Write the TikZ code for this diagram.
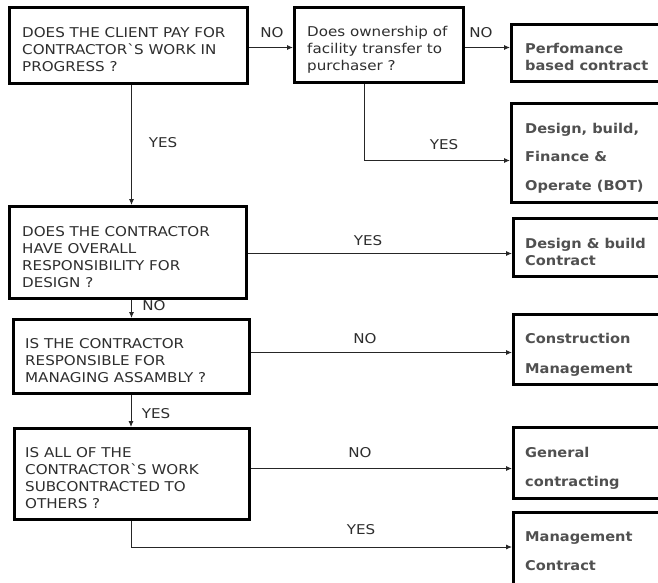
\documentclass[tikz,border=0pt]{standalone}
\usepackage{fontspec}
\setmainfont[FakeStretch=1.12]{DejaVu Sans}
\newfontfamily\headf[FakeStretch=1.08]{DejaVu Sans Bold}
\usetikzlibrary{arrows.meta}
\definecolor{qtext}{HTML}{2E2E2E}
\definecolor{atext}{HTML}{505050}
\newcommand{\gr}{\textasciigrave}
\tikzset{
  box/.style={draw=black, line width=3pt, fill=white, rectangle, inner sep=0pt, anchor=north west},
  qtxt/.style={anchor=north west, align=left, inner sep=0pt, text=qtext,
    font=\fontsize{13.5}{17}\selectfont},
  atxt/.style={anchor=north west, align=left, inner sep=0pt, text=atext,
    font=\headf\fontsize{13.5}{17.5}\selectfont},
  lbl/.style={inner sep=0pt, text=qtext, font=\fontsize{13.5}{15}\selectfont},
  arr/.style={draw=black!85, line width=0.9pt, -{Latex[length=6pt,width=5pt]}}
}
\begin{document}
\begin{tikzpicture}[x=1pt,y=-1pt]
\clip (0,0) rectangle (658,582);
\fill[white] (0,0) rectangle (658,582);

% question boxes
\node[box, minimum width=238, minimum height=76] (q1) at (8,6) {};
\node[qtxt] (t1) at (22,27) {DOES THE CLIENT PAY FOR\\CONTRACTOR\gr S WORK IN\\PROGRESS ?};

\node[box, minimum width=169, minimum height=75] (q2) at (293,6) {};
\node[qtxt] (t2) at (307,26) {Does ownership of\\facility transfer to\\purchaser ?};

\node[box, minimum width=237, minimum height=92] (q3) at (8,205) {};
\node[qtxt] (t3) at (22,226) {DOES THE CONTRACTOR\\HAVE OVERALL\\RESPONSIBILITY FOR\\DESIGN ?};

\node[box, minimum width=236, minimum height=74] (q4) at (12,318) {};
\node[qtxt] (t4) at (25,338) {IS THE CONTRACTOR\\RESPONSIBLE FOR\\MANAGING ASSAMBLY ?};

\node[box, minimum width=235, minimum height=91] (q5) at (13,427) {};
\node[qtxt] (t5) at (25,447) {IS ALL OF THE\\CONTRACTOR\gr S WORK\\SUBCONTRACTED TO\\OTHERS ?};

% outcome boxes
\node[box, minimum width=170, minimum height=57] (p) at (510,23) {};
\node[atxt] (tp) at (525,43) {Perfomance\\based contract};

\node[box, minimum width=170, minimum height=99] (bot) at (510,102) {};
\node[atxt, font=\headf\fontsize{13.5}{28.5}\selectfont] (tbot) at (525,123) {Design, build,\\Finance \&\\Operate (BOT)};

\node[box, minimum width=170, minimum height=58] (db) at (512,217) {};
\node[atxt] (tdb) at (525,238) {Design \& build\\Contract};

\node[box, minimum width=170, minimum height=70] (cm) at (512,313) {};
\node[atxt, font=\headf\fontsize{13.5}{30}\selectfont] (tcm) at (525,333) {Construction\\Management};

\node[box, minimum width=170, minimum height=71] (gc) at (512,426) {};
\node[atxt, font=\headf\fontsize{13.5}{29}\selectfont] (tgc) at (525,447) {General\\contracting};

\node[box, minimum width=170, minimum height=72] (mc) at (512,511) {};
\node[atxt, font=\headf\fontsize{13.5}{29}\selectfont] (tmc) at (525,531) {Management\\Contract};

% connectors
\draw[arr] ([yshift=-2pt]q1.east) -- ([yshift=-2pt]q1.east -| q2.west);
\draw[arr] ([yshift=-2.5pt]q2.east) -- ([yshift=-2.5pt]q2.east -| p.west);
\draw[arr] ([xshift=-15pt]q2.south) |- ([yshift=-7.5pt]bot.west);
\draw[arr] ([xshift=3pt]q1.south) -- ([xshift=3pt]q1.south |- q3.north);
\draw[arr] ([yshift=-1pt]q3.east) -- ([yshift=-1pt]q3.east -| db.west);
\draw[arr] ([xshift=3.5pt]q3.south) -- ([xshift=3.5pt]q3.south |- q4.north);
\draw[arr] ([yshift=4pt]q4.east) -- ([yshift=4pt]q4.east -| cm.west);
\draw[arr] ([xshift=-0.5pt]q4.south) -- ([xshift=-0.5pt]q4.south |- q5.north);
\draw[arr] ([yshift=5.5pt]q5.east) -- ([yshift=5.5pt]q5.east -| gc.west);
\draw[arr] ([xshift=-0.5pt]q5.south) |- ([yshift=1.5pt]mc.west);

% branch labels
\node[lbl] (l1) at (272,33) {NO};
\node[lbl] (l2) at (481,33) {NO};
\node[lbl] (l3) at (444,145) {YES};
\node[lbl] (l4) at (163,143) {YES};
\node[lbl] (l5) at (368,241) {YES};
\node[lbl] (l6) at (154,306) {NO};
\node[lbl] (l7) at (365,339) {NO};
\node[lbl] (l8) at (156,414) {YES};
\node[lbl] (l9) at (360,453) {NO};
\node[lbl] (l10) at (361,530) {YES};
\end{tikzpicture}
\end{document}
